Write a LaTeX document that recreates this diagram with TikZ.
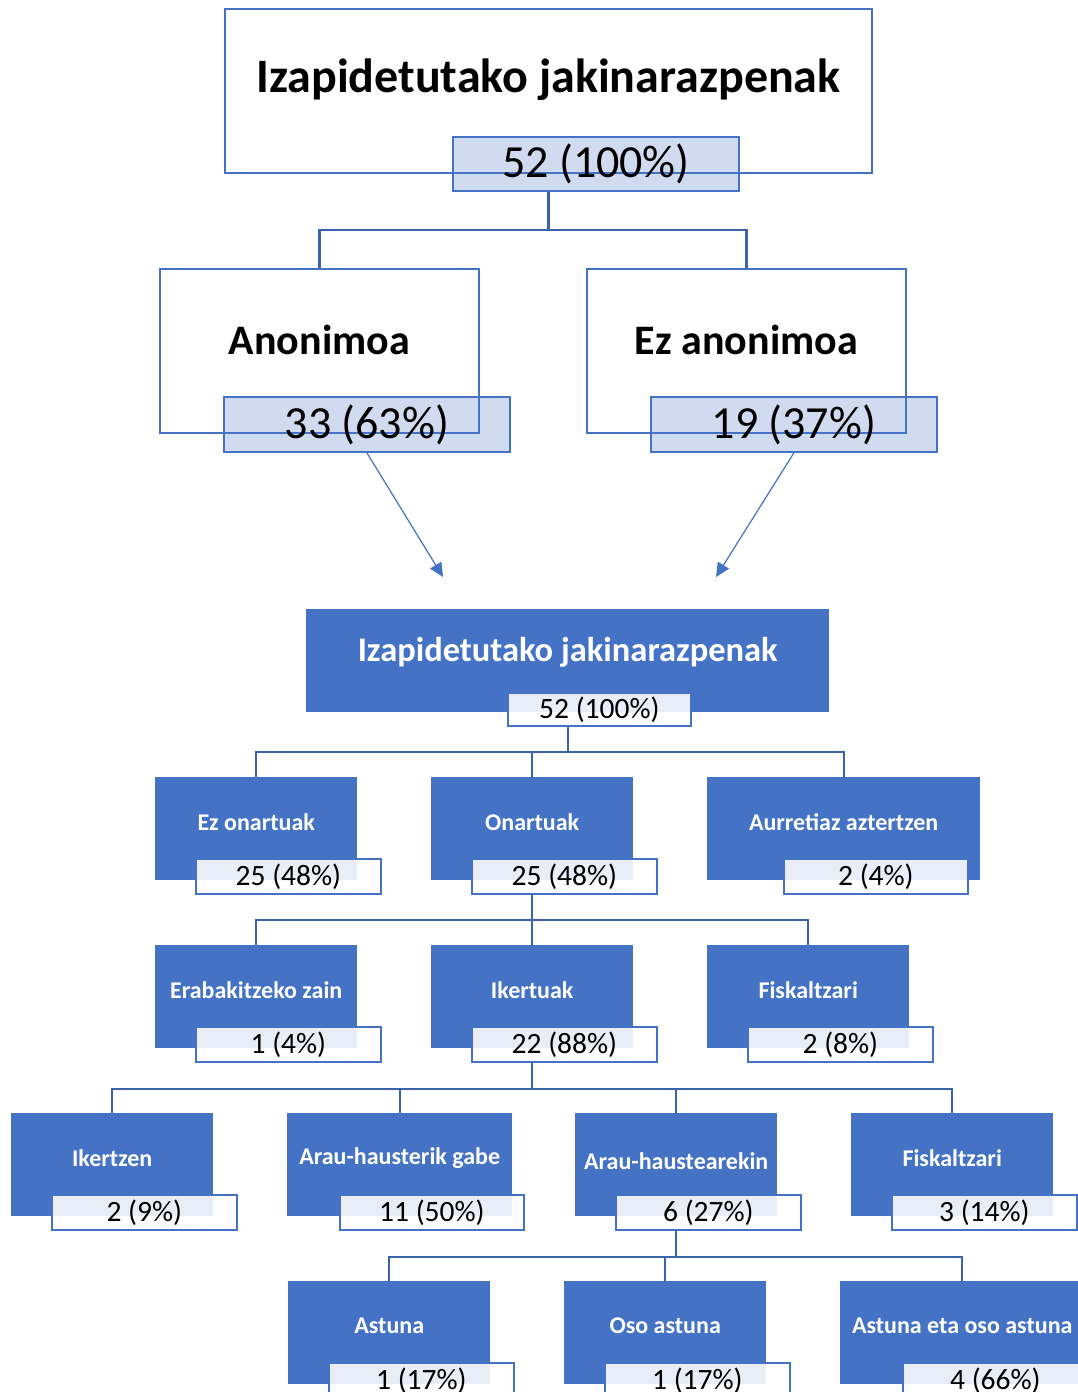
\documentclass[tikz,border=0pt]{standalone}
\usepackage{fontspec}
\setmainfont{Carlito}
\usepackage{tikz}
\usetikzlibrary{positioning, calc, arrows.meta}
\definecolor{ofblue}{HTML}{4472C4}
\definecolor{lnblue}{HTML}{3C64AA}

\begin{document}
\begin{tikzpicture}[x=1pt, y=-1pt,
    topbox/.style={draw=ofblue, line width=1.8pt, fill=white, inner sep=0pt, anchor=north west},
    toplab/.style={draw=ofblue, line width=1.8pt, fill=ofblue, fill opacity=0.25, text opacity=1, inner sep=0pt, anchor=north west, font=\fontsize{46}{50}\selectfont},
    bluebox/.style={fill=ofblue, inner sep=0pt, anchor=north west, minimum height=103pt},
    lab/.style={draw=ofblue, line width=1.8pt, fill=white, fill opacity=0.88, text opacity=1, inner sep=0pt, anchor=north west, minimum height=35pt, font=\fontsize{29.5}{32}\selectfont},
    ttl/.style={text=white, font=\fontsize{24}{28}\selectfont\bfseries},
    conn/.style={draw=lnblue, line width=2.2pt},
    arr/.style={draw=ofblue, line width=1.2pt, -{Triangle[length=14pt, width=13pt]}}]

    \useasboundingbox[fill=white] (0,0) rectangle (1077,1392);

    % goiko zatia
    \node[topbox, minimum width=647pt, minimum height=164pt] (top) at (224,8) {};
    \node[font=\fontsize{48}{54}\selectfont\bfseries] (toptxt) at ([yshift=11pt]top.center) {Izapidetutako jakinarazpenak};
    \node[toplab, minimum width=286pt, minimum height=54pt] (l0) at (452,136) {52 (100\%)};

    \node[topbox, minimum width=319pt, minimum height=164pt] (anon) at (159,268) {};
    \node[font=\fontsize{42}{48}\selectfont\bfseries] (anontxt) at ([yshift=11pt]anon.center) {Anonimoa};
    \node[toplab, minimum width=286pt, minimum height=55pt] (l1) at (223,396) {33 (63\%)};

    \node[topbox, minimum width=319pt, minimum height=164pt] (ezanon) at (586,268) {};
    \node[font=\fontsize{42}{48}\selectfont\bfseries] (ezanontxt) at ([yshift=11pt]ezanon.center) {Ez anonimoa};
    \node[toplab, minimum width=286pt, minimum height=55pt] (l2) at (650,396) {19 (37\%)};

    \draw[conn] (top.center |- l0.south) -- ++(0,38) -| (anon.north);
    \draw[conn] (top.center |- l0.south) -- ++(0,38) -| (ezanon.north);

    \coordinate (a1) at (443,577);
    \coordinate (a2) at (716,577);
    \draw[arr] (l1.south) -- (a1);
    \draw[arr] (l2.south) -- (a2);

    % beheko zuhaitza
    \node[bluebox, minimum width=523pt] (main) at (306,609) {};
    \node[text=white, font=\fontsize{34.5}{40}\selectfont\bfseries] (maintxt) at ([yshift=8pt]main.center) {Izapidetutako jakinarazpenak};
    \node[lab, minimum width=183pt, minimum height=33pt] (ml) at (507,692) {52 (100\%)};

    % 1. maila
    \node[bluebox, minimum width=202pt] (ezon) at (155,777) {};
    \node[ttl] at ([yshift=7pt]ezon.center) {Ez onartuak};
    \node[lab, minimum width=185pt] (lezon) at (195,858) {25 (48\%)};

    \node[bluebox, minimum width=202pt] (ona) at (431,777) {};
    \node[ttl] at ([yshift=7pt]ona.center) {Onartuak};
    \node[lab, minimum width=185pt] (lona) at (471,858) {25 (48\%)};

    \node[bluebox, minimum width=273pt] (aurre) at (707,777) {};
    \node[ttl] at ([yshift=7pt]aurre.center) {Aurretiaz aztertzen};
    \node[lab, minimum width=184pt] (laurre) at (783,858) {2 (4\%)};

    \draw[conn] (main.center |- ml.south) -- ++(0,25) -| (ezon.north);
    \draw[conn] (main.center |- ml.south) -- ++(0,25) -| (ona.north);
    \draw[conn] (main.center |- ml.south) -- ++(0,25) -| (aurre.north);

    % 2. maila
    \node[bluebox, minimum width=202pt] (zain) at (155,945) {};
    \node[ttl] at ([yshift=7pt]zain.center) {Erabakitzeko zain};
    \node[lab, minimum width=185pt] (lzain) at (195,1026) {1 (4\%)};

    \node[bluebox, minimum width=202pt] (iker) at (431,945) {};
    \node[ttl] at ([yshift=7pt]iker.center) {Ikertuak};
    \node[lab, minimum width=185pt] (liker) at (471,1026) {22 (88\%)};

    \node[bluebox, minimum width=202pt] (fisk) at (707,945) {};
    \node[ttl] at ([yshift=7pt]fisk.center) {Fiskaltzari};
    \node[lab, minimum width=185pt] (lfisk) at (747,1026) {2 (8\%)};

    \draw[conn] (ona.center |- lona.south) -- ++(0,25) -| (zain.north);
    \draw[conn] (ona.center |- lona.south) -- ++(0,25) -| (iker.north);
    \draw[conn] (ona.center |- lona.south) -- ++(0,25) -| (fisk.north);

    % 3. maila
    \node[bluebox, minimum width=202pt] (ikertzen) at (11,1113) {};
    \node[ttl] at ([yshift=7pt]ikertzen.center) {Ikertzen};
    \node[lab, minimum width=185pt] (likertzen) at (51,1194) {2 (9\%)};

    \node[bluebox, minimum width=225pt] (gabe) at (287,1113) {};
    \node[ttl] at ([yshift=7pt]gabe.center) {Arau-hausterik gabe};
    \node[lab, minimum width=184pt] (lgabe) at (339,1194) {11 (50\%)};

    \node[bluebox, minimum width=202pt] (arekin) at (575,1113) {};
    \node[ttl] at ([yshift=4pt]arekin.center) {Arau-haustearekin};
    \node[lab, minimum width=185pt] (larekin) at (615,1194) {6 (27\%)};

    \node[bluebox, minimum width=202pt] (fisk2) at (851,1113) {};
    \node[ttl] at ([yshift=7pt]fisk2.center) {Fiskaltzari};
    \node[lab, minimum width=185pt] (lfisk2) at (891,1194) {3 (14\%)};

    \draw[conn] (iker.center |- liker.south) -- ++(0,26) -| (ikertzen.north);
    \draw[conn] (iker.center |- liker.south) -- ++(0,26) -| (gabe.north);
    \draw[conn] (iker.center |- liker.south) -- ++(0,26) -| (arekin.north);
    \draw[conn] (iker.center |- liker.south) -- ++(0,26) -| (fisk2.north);

    % 4. maila
    \node[bluebox, minimum width=202pt] (astuna) at (288,1281) {};
    \node[ttl] at ([yshift=7pt]astuna.center) {Astuna};
    \node[lab, minimum width=185pt] (lastuna) at (328,1362) {1 (17\%)};

    \node[bluebox, minimum width=202pt] (oso) at (564,1281) {};
    \node[ttl] at ([yshift=7pt]oso.center) {Oso astuna};
    \node[lab, minimum width=185pt] (loso) at (604,1362) {1 (17\%)};

    \node[bluebox, minimum width=244pt] (biak) at (840,1281) {};
    \node[ttl] at ([yshift=7pt]biak.center) {Astuna eta oso astuna};
    \node[lab, minimum width=185pt] (lbiak) at (902,1362) {4 (66\%)};

    \draw[conn] (arekin.center |- larekin.south) -- ++(0,26) -| (astuna.north);
    \draw[conn] (arekin.center |- larekin.south) -- ++(0,26) -| (oso.north);
    \draw[conn] (arekin.center |- larekin.south) -- ++(0,26) -| (biak.north);
\end{tikzpicture}
\end{document}
